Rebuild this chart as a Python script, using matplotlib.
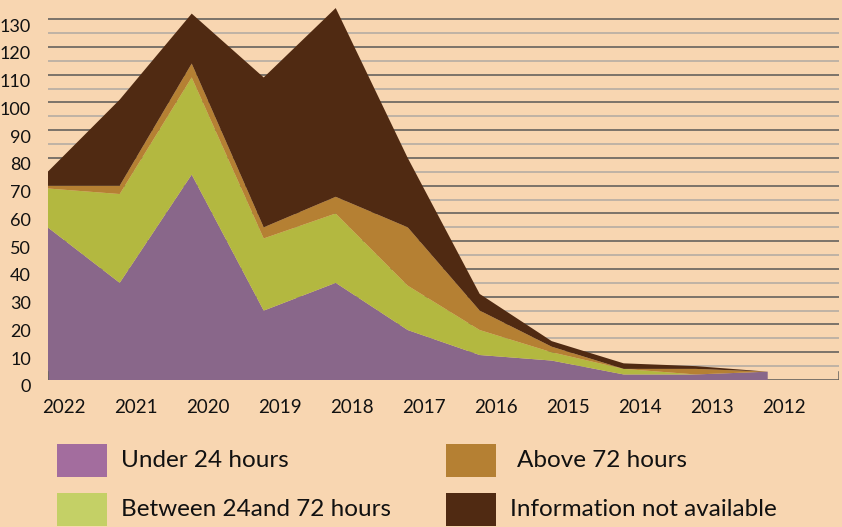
import matplotlib
matplotlib.use("Agg")
import matplotlib.pyplot as plt
import matplotlib.transforms as mtransforms
from matplotlib.patches import Rectangle
import numpy as np

years = ["2022", "2021", "2020", "2019", "2018", "2017", "2016", "2015", "2014", "2013", "2012"]
under_24 = [55, 35, 74, 25, 35, 18, 9, 7, 2, 2, 3]
between_24_72 = [14, 32, 35, 26, 25, 16, 9, 3, 2, 0, 0]
above_72 = [1, 3, 5, 4, 6, 21, 7, 2, 0, 2, 0]
not_available = [5, 31, 18, 54, 68, 25, 6, 2, 2, 1, 0]

series_labels = ["Under 24 hours", "Between 24and 72 hours", "Above 72 hours", "Information not available"]
yticks = list(range(0, 131, 10))

BG = "#F8D6B1"
area_colors = ["#89678A", "#B3B840", "#B58033", "#502A12"]
legend_colors = ["#A36D9E", "#C4D066", "#B58033", "#502A12"]

plt.rcParams["font.family"] = ["Lato", "DejaVu Sans"]

W, H = 842, 527
fig = plt.figure(figsize=(W / 100, H / 100), dpi=100)
fig.patch.set_facecolor(BG)

left_px, right_px, bottom_px, top_px = 47.7, 839.0, 380.0, 0.0
ax = fig.add_axes([left_px / W, 1 - bottom_px / H, (right_px - left_px) / W, (bottom_px - top_px) / H])
ax.set_facecolor(BG)

x = np.arange(len(years))
ax.stackplot(x, under_24, between_24_72, above_72, not_available,
             colors=area_colors, linewidth=0, zorder=3)

ax.set_xlim(0, 10.99)
ax.set_ylim(0, 136.9)

# gridlines
for v in range(0, 131, 10):
    ax.axhline(v, color="#66625E", linewidth=1.2, zorder=1)
for v in range(5, 130, 10):
    ax.axhline(v, color="#B0A9A2", linewidth=1.1, zorder=1)
# small end caps on the base line
ax.axvline(0, ymin=0, ymax=3.0 / 136.9, color="#66625E", linewidth=1.1, zorder=4)
ax.axvline(10.99, ymin=0, ymax=3.0 / 136.9, color="#66625E", linewidth=1.1, zorder=4)

for s in ax.spines.values():
    s.set_visible(False)

ax.set_yticks(yticks)
ax.set_yticklabels([str(v) for v in yticks], fontsize=13, color="#111111")
ax.tick_params(axis="y", length=0, pad=12)
offy = mtransforms.ScaledTranslation(0, -6 / 100, fig.dpi_scale_trans)
for lab in ax.get_yticklabels():
    lab.set_transform(lab.get_transform() + offy)

ax.set_xticks(x)
ax.set_xticklabels(years, fontsize=13.5, color="#111111")
ax.tick_params(axis="x", length=0, pad=14)
offx = mtransforms.ScaledTranslation(16 / 100, 0, fig.dpi_scale_trans)
for lab in ax.get_xticklabels():
    lab.set_transform(lab.get_transform() + offx)

# legend (manual, two columns)
sw_w, sw_h = 50, 33
entries = [
    (57, 444, 121, series_labels[0], legend_colors[0]),
    (57, 493, 121, series_labels[1], legend_colors[1]),
    (446, 444, 517, series_labels[2], legend_colors[2]),
    (446, 493, 510, series_labels[3], legend_colors[3]),
]
for sx, sy, tx, label, col in entries:
    fig.patches.append(Rectangle((sx / W, 1 - (sy + sw_h) / H), sw_w / W, sw_h / H,
                                 transform=fig.transFigure, facecolor=col,
                                 edgecolor="none", zorder=2))
    fig.text(tx / W, 1 - (sy + sw_h / 2) / H, label, fontsize=17.5, color="#111111",
             va="center", ha="left")

fig.savefig("out.png", dpi=100, facecolor=BG)
